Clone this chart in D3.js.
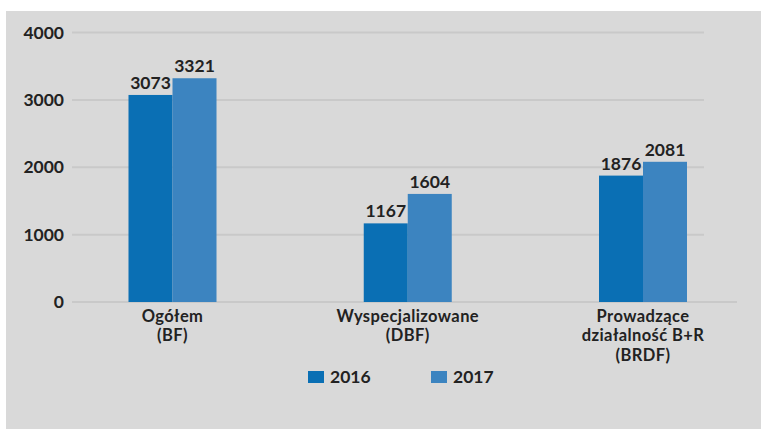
<!DOCTYPE html>
<html>
<head>
<meta charset="utf-8">
<script src="https://cdn.jsdelivr.net/npm/d3@7/dist/d3.min.js"></script>
<style>
  html, body { margin: 0; padding: 0; background: #ffffff; }
  svg { display: block; }
  text { font-family: Lato, "Open Sans", sans-serif; fill: #222; }
</style>
</head>
<body>
<svg id="chart" width="761" height="430"></svg>
<script>
// Liczba jednostek (BF / DBF / BRDF) w latach 2016–2017
const categories = [
  ["Ogółem", "(BF)"],
  ["Wyspecjalizowane", "(DBF)"],
  ["Prowadzące", "działalność B+R", "(BRDF)"]
];
const years = ["2016", "2017"];
const values2016 = [3073, 1167, 1876];
const values2017 = [3321, 1604, 2081];
const yTicks = [0, 1000, 2000, 3000, 4000];
const colors = ["#0a6fb4", "#3c84c0"];

const svg = d3.select("#chart");

// panel background
svg.append("rect")
  .attr("x", 6).attr("y", 11)
  .attr("width", 755).attr("height", 418)
  .attr("fill", "#d9d9d9");

const y = d3.scaleLinear().domain([0, 4000]).range([302, 32.5]);

const catIdx = categories.map((d, i) => i);
const x0 = d3.scalePoint().domain(catIdx).range([172.5, 643]);
const x1 = d3.scaleBand().domain(years).range([-44, 44]);

// gridlines
const gridLeft = 72, gridRight = 704;
svg.append("g").selectAll("line")
  .data(yTicks)
  .join("line")
  .attr("x1", gridLeft)
  .attr("x2", d => d === 0 ? 737 : gridRight)
  .attr("y1", d => y(d)).attr("y2", d => y(d))
  .attr("stroke", "#c9c9c9")
  .attr("stroke-width", 2);

// y axis labels
const yAxis = d3.axisLeft(y).tickValues(yTicks).tickSize(0).tickPadding(0)
  .tickFormat(d3.format("d"));
const gy = svg.append("g").attr("transform", "translate(64,0)").call(yAxis);
gy.select(".domain").remove();
gy.selectAll("text")
  .attr("font-size", 17.5)
  .attr("font-weight", 700)
  .attr("fill", "#222")
  .style("font-family", "Lato, 'Open Sans', sans-serif");

// bars
const series = [values2016, values2017];
const barData = [];
catIdx.forEach(i => {
  years.forEach((yr, s) => {
    barData.push({ cat: i, year: yr, s: s, value: series[s][i] });
  });
});

const bars = svg.append("g");
bars.selectAll("rect")
  .data(barData)
  .join("rect")
  .attr("x", d => x0(d.cat) + x1(d.year))
  .attr("y", d => y(d.value))
  .attr("width", x1.bandwidth())
  .attr("height", d => y(0) - y(d.value))
  .attr("fill", d => colors[d.s]);

// value labels
bars.selectAll("text")
  .data(barData)
  .join("text")
  .attr("x", d => x0(d.cat) + x1(d.year) + x1.bandwidth() / 2)
  .attr("y", d => y(d.value) - 6)
  .attr("text-anchor", "middle")
  .attr("font-size", 17.5)
  .attr("font-weight", 700)
  .text(d => d.value);

// category labels, one text element per line
const catLines = [];
categories.forEach((lines, i) => {
  lines.forEach((line, k) => catLines.push({ cat: i, k: k, text: line }));
});
svg.append("g").selectAll("text")
  .data(catLines)
  .join("text")
  .attr("text-anchor", "middle")
  .attr("font-size", 16.5)
  .attr("font-weight", 700)
  .attr("letter-spacing", 0.4)
  .attr("x", d => x0(d.cat))
  .attr("y", d => 321.5 + d.k * 19.9)
  .text(d => d.text);

// legend
const legendX = d3.scalePoint().domain(years).range([308, 431]);
const lg = svg.append("g").selectAll("g")
  .data(years)
  .join("g")
  .attr("transform", d => `translate(${legendX(d)},371)`);
lg.append("rect")
  .attr("width", 16).attr("height", 12)
  .attr("fill", (d, i) => colors[i]);
lg.append("text")
  .attr("x", 22).attr("y", 12)
  .attr("font-size", 17.5)
  .attr("font-weight", 700)
  .text(d => d);
</script>
</body>
</html>
